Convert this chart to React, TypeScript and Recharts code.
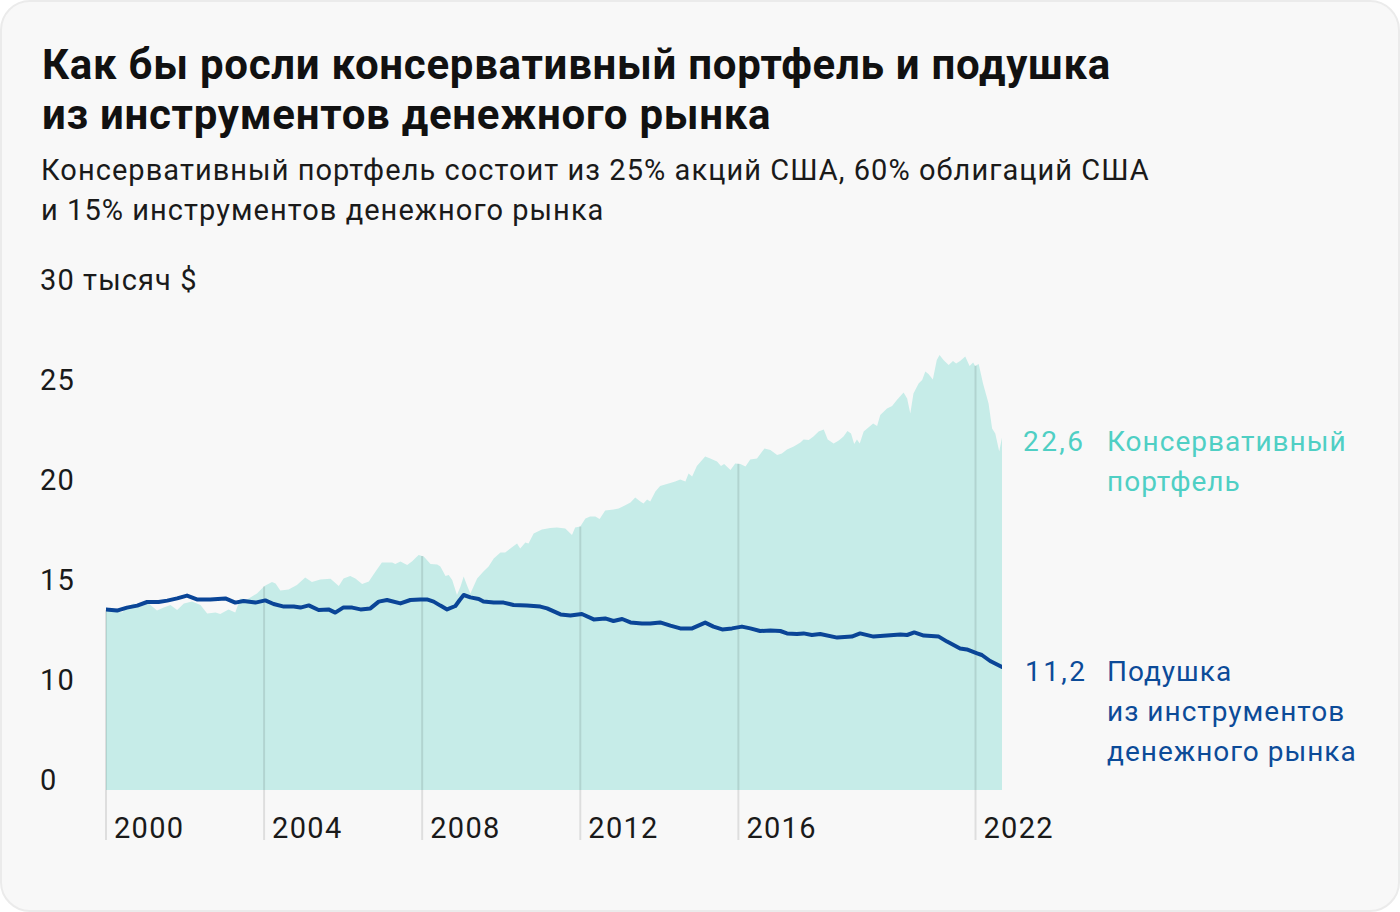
import React from 'react';
import { ComposedChart, Area, Line, XAxis, YAxis, ReferenceLine } from 'recharts';

const portfolioYears = [
  2000.0, 2000.19, 2000.41, 2000.53, 2000.7, 2000.87, 2001.08, 2001.29, 2001.46, 2001.63,
  2001.8, 2001.97, 2002.18, 2002.39, 2002.56, 2002.77, 2002.89, 2003.1, 2003.27, 2003.4,
  2003.57, 2003.82, 2004.01, 2004.2, 2004.29, 2004.41, 2004.62, 2004.83, 2005.04, 2005.21,
  2005.42, 2005.68, 2005.89, 2006.01, 2006.18, 2006.31, 2006.48, 2006.65, 2006.82, 2006.98,
  2007.24, 2007.32, 2007.45, 2007.62, 2007.74, 2007.91, 2008.04, 2008.21, 2008.38, 2008.46,
  2008.59, 2008.67, 2008.76, 2008.88, 2008.97, 2009.05, 2009.14, 2009.22, 2009.39, 2009.55,
  2009.68, 2009.81, 2009.98, 2010.1, 2010.23, 2010.4, 2010.48, 2010.61, 2010.69, 2010.82,
  2011.03, 2011.24, 2011.41, 2011.62, 2011.79, 2011.87, 2012.0, 2012.13, 2012.25, 2012.38,
  2012.49, 2012.63, 2012.84, 2012.97, 2013.1, 2013.27, 2013.39, 2013.52, 2013.6, 2013.69,
  2013.77, 2013.9, 2014.02, 2014.19, 2014.32, 2014.4, 2014.53, 2014.66, 2014.74, 2014.83,
  2014.95, 2015.16, 2015.29, 2015.46, 2015.56, 2015.64, 2015.8, 2015.92, 2016.05, 2016.18,
  2016.3, 2016.47, 2016.66, 2016.81, 2016.98, 2017.1, 2017.23, 2017.4, 2017.57, 2017.65,
  2017.78, 2017.9, 2018.03, 2018.16, 2018.26, 2018.41, 2018.54, 2018.66, 2018.76, 2018.85,
  2018.93, 2019.0, 2019.07, 2019.17, 2019.29, 2019.41, 2019.51, 2019.59, 2019.76, 2019.89,
  2020.01, 2020.18, 2020.27, 2020.35, 2020.43, 2020.56, 2020.65, 2020.73, 2020.81, 2020.92,
  2021.02, 2021.09, 2021.19, 2021.32, 2021.43, 2021.51, 2021.61, 2021.74, 2021.85, 2021.94,
  2021.99, 2022.08, 2022.19, 2022.33, 2022.42, 2022.5, 2022.6, 2022.67,
];

const portfolioValues = [
  14.0, 13.97, 13.87, 14.17, 14.33, 14.17, 14.33, 13.97, 14.13, 14.25,
  14.0, 14.33, 14.42, 14.25, 13.83, 13.87, 13.8, 14.03, 13.87, 14.58,
  14.53, 14.83, 15.2, 15.4, 15.33, 14.97, 15.03, 15.25, 15.63, 15.4,
  15.53, 15.56, 15.2, 15.58, 15.7, 15.58, 15.3, 15.42, 15.92, 16.37,
  16.37, 16.3, 16.42, 16.25, 16.42, 16.75, 16.67, 16.3, 16.28, 16.17,
  15.7, 15.75, 15.5, 14.75, 15.17, 15.67, 15.2, 14.83, 15.58, 15.92,
  16.17, 16.58, 16.87, 16.87, 17.08, 17.33, 17.08, 17.37, 17.33, 17.83,
  18.03, 18.1, 18.13, 18.08, 17.75, 18.12, 18.17, 18.58, 18.67, 18.67,
  18.55, 18.97, 19.03, 19.08, 19.2, 19.37, 19.62, 19.42, 19.33, 19.53,
  19.42, 19.92, 20.2, 20.3, 20.37, 20.42, 20.53, 20.42, 20.83, 20.67,
  21.2, 21.67, 21.58, 21.42, 21.2, 21.3, 21.0, 21.33, 21.3, 21.17,
  21.53, 21.58, 22.08, 22.0, 21.75, 21.83, 22.03, 22.17, 22.37, 22.53,
  22.5, 22.67, 22.92, 23.03, 22.53, 22.33, 22.47, 22.67, 22.95, 22.83,
  22.3, 22.53, 22.33, 22.92, 23.13, 23.33, 23.2, 23.75, 24.08, 24.2,
  24.5, 24.87, 24.58, 23.83, 24.83, 25.33, 25.5, 25.92, 25.8, 25.53,
  26.5, 26.75, 26.5, 26.25, 26.45, 26.33, 26.45, 26.67, 26.2, 26.37,
  26.2, 26.3, 25.33, 24.33, 23.08, 22.83, 21.92, 22.63,
];

const cushionYears = [
  2000.0, 2000.28, 2000.53, 2000.79, 2001.04, 2001.33, 2001.55, 2001.8, 2002.05, 2002.3,
  2002.64, 2003.02, 2003.27, 2003.48, 2003.78, 2004.03, 2004.24, 2004.5, 2004.75, 2004.92,
  2005.13, 2005.38, 2005.63, 2005.8, 2006.01, 2006.23, 2006.44, 2006.69, 2006.9, 2007.11,
  2007.45, 2007.7, 2007.95, 2008.12, 2008.29, 2008.46, 2008.63, 2008.84, 2008.95, 2009.05,
  2009.22, 2009.43, 2009.55, 2009.81, 2010.06, 2010.31, 2010.65, 2010.99, 2011.16, 2011.33,
  2011.5, 2011.75, 2012.04, 2012.34, 2012.63, 2012.84, 2013.06, 2013.27, 2013.56, 2013.77,
  2014.02, 2014.28, 2014.53, 2014.83, 2015.16, 2015.37, 2015.59, 2015.84, 2016.09, 2016.3,
  2016.55, 2016.81, 2017.06, 2017.23, 2017.48, 2017.65, 2017.86, 2018.07, 2018.5, 2018.87,
  2019.08, 2019.42, 2019.76, 2020.1, 2020.27, 2020.45, 2020.69, 2021.07, 2021.28, 2021.61,
  2021.78, 2022.04, 2022.16, 2022.37, 2022.67,
];

const cushionValues = [
  14.03, 13.97, 14.12, 14.22, 14.4, 14.4, 14.47, 14.58, 14.72, 14.53,
  14.53, 14.58, 14.37, 14.45, 14.37, 14.48, 14.3, 14.17, 14.17, 14.12,
  14.23, 14.0, 14.03, 13.87, 14.13, 14.12, 14.03, 14.08, 14.42, 14.5,
  14.33, 14.5, 14.53, 14.53, 14.42, 14.22, 14.03, 14.2, 14.5, 14.75,
  14.63, 14.55, 14.42, 14.38, 14.37, 14.25, 14.22, 14.17, 14.08, 13.93,
  13.78, 13.73, 13.8, 13.53, 13.58, 13.45, 13.55, 13.38, 13.33, 13.32,
  13.38, 13.22, 13.08, 13.08, 13.37, 13.17, 13.03, 13.08, 13.17, 13.08,
  12.95, 12.97, 12.95, 12.83, 12.8, 12.83, 12.75, 12.8, 12.62, 12.67,
  12.83, 12.67, 12.73, 12.78, 12.75, 12.88, 12.72, 12.67, 12.42, 12.08,
  12.03, 11.83, 11.75, 11.45, 11.15,
];

const yearTicks = [2000, 2004, 2008, 2012, 2016, 2022];
const valueTicks = [5, 10, 15, 20, 25, 30];
const valueTickLabels = ['0', '10', '15', '20', '25', '30 тысяч $'];

const titleLines = ['Как бы росли консервативный портфель и подушка', 'из инструментов денежного рынка'];
const subtitleLines = ['Консервативный портфель состоит из 25% акций США, 60% облигаций США', 'и 15% инструментов денежного рынка'];
const portfolioLabel = ['Консервативный', 'портфель'];
const cushionLabel = ['Подушка', 'из инструментов', 'денежного рынка'];
const portfolioEnd = '22,6';
const cushionEnd = '11,2';

const FONT = 'Roboto, "Noto Sans", sans-serif';
const TEAL_FILL = '#c6ece8';
const TEAL_TEXT = '#4fcfc4';
const BLUE = '#0a4597';
const BLUE_TEXT = '#0c4b98';

const portfolioData = portfolioYears.map((t, i) => ({ t, v: portfolioValues[i] }));
const cushionData = cushionYears.map((t, i) => ({ t, v: cushionValues[i] }));

function portfolioAt(year: number): number {
  for (let i = 0; i < portfolioYears.length - 1; i++) {
    const a = portfolioYears[i];
    const b = portfolioYears[i + 1];
    if (year >= a && year <= b) {
      const f = (year - a) / (b - a);
      return portfolioValues[i] + f * (portfolioValues[i + 1] - portfolioValues[i]);
    }
  }
  return portfolioValues[0];
}

const YTick = (props: any) => {
  const { x, y, payload } = props;
  const idx = valueTicks.indexOf(payload.value);
  return (
    <text x={x - 66} y={y} fontSize={29} fill="#1a1a1a" fontFamily={FONT} textAnchor="start" style={{ letterSpacing: '1.1px' }}>
      {valueTickLabels[idx]}
    </text>
  );
};

const XTick = (props: any) => {
  const { x, y, payload } = props;
  return (
    <text x={x + 8} y={y + 48} fontSize={29} fill="#1a1a1a" fontFamily={FONT} textAnchor="start" style={{ letterSpacing: '1.3px' }}>
      {payload.value}
    </text>
  );
};

export default function App() {
  return (
    <div style={{ position: 'absolute', left: 0, top: 0, width: 1400, height: 912, background: '#ffffff', fontFamily: FONT }}>
      <div
        style={{
          position: 'absolute',
          left: 0,
          top: 0,
          width: 1400,
          height: 912,
          boxSizing: 'border-box',
          border: '2px solid #ebebeb',
          borderRadius: 30,
          background: '#f8f8f8',
        }}
      />
      <div style={{ position: 'absolute', left: 42, top: 40, fontSize: 42, lineHeight: '50px', fontWeight: 700, color: '#111', whiteSpace: 'nowrap', letterSpacing: '0.72px' }}>
        {titleLines.map((l) => (
          <div key={l}>{l}</div>
        ))}
      </div>
      <div style={{ position: 'absolute', left: 41, top: 150, fontSize: 29, lineHeight: '40px', color: '#1a1a1a', whiteSpace: 'nowrap', letterSpacing: '1.05px' }}>
        {subtitleLines.map((l) => (
          <div key={l}>{l}</div>
        ))}
      </div>
      <div style={{ position: 'absolute', left: 0, top: 0 }}>
        <ComposedChart width={1400} height={912} margin={{ top: 290, right: 398, bottom: 0, left: 0 }}>
          <XAxis
            type="number"
            dataKey="t"
            domain={[2000, 2022.67]}
            ticks={yearTicks}
            interval={0}
            allowDataOverflow
            axisLine={false}
            tickLine={false}
            tickSize={0}
            tickMargin={0}
            height={122}
            tick={<XTick />}
          />
          <YAxis
            type="number"
            domain={[5, 30]}
            ticks={valueTicks}
            interval={0}
            allowDataOverflow
            axisLine={false}
            tickLine={false}
            tickSize={0}
            tickMargin={0}
            width={106}
            tick={<YTick />}
          />
          <Area
            data={portfolioData}
            dataKey="v"
            type="linear"
            stroke="none"
            fill={TEAL_FILL}
            fillOpacity={1}
            baseValue={5}
            isAnimationActive={false}
            dot={false}
            activeDot={false}
          />
          {yearTicks.map((yr) => (
            <ReferenceLine
              key={yr}
              segment={[
                { x: yr, y: 2.5 },
                { x: yr, y: portfolioAt(yr) },
              ]}
              stroke="rgba(0,0,0,0.1)"
              strokeWidth={2}
              ifOverflow="visible"
            />
          ))}
          <Line
            data={cushionData}
            dataKey="v"
            type="linear"
            stroke={BLUE}
            strokeWidth={4}
            strokeLinejoin="round"
            strokeLinecap="round"
            dot={false}
            activeDot={false}
            isAnimationActive={false}
          />
        </ComposedChart>
      </div>
      <div style={{ position: 'absolute', left: 1023, top: 422, fontSize: 28, lineHeight: '40px', color: TEAL_TEXT, whiteSpace: 'nowrap', letterSpacing: '2.4px' }}>
        {portfolioEnd}
      </div>
      <div style={{ position: 'absolute', left: 1107, top: 422, fontSize: 28, lineHeight: '40px', color: TEAL_TEXT, whiteSpace: 'nowrap', letterSpacing: '1px' }}>
        {portfolioLabel.map((l) => (
          <div key={l}>{l}</div>
        ))}
      </div>
      <div style={{ position: 'absolute', left: 1025, top: 652, fontSize: 28, lineHeight: '40px', color: BLUE_TEXT, whiteSpace: 'nowrap', letterSpacing: '2.4px' }}>
        {cushionEnd}
      </div>
      <div style={{ position: 'absolute', left: 1107, top: 652, fontSize: 28, lineHeight: '40px', color: BLUE_TEXT, whiteSpace: 'nowrap', letterSpacing: '1px' }}>
        {cushionLabel.map((l) => (
          <div key={l}>{l}</div>
        ))}
      </div>
    </div>
  );
}
